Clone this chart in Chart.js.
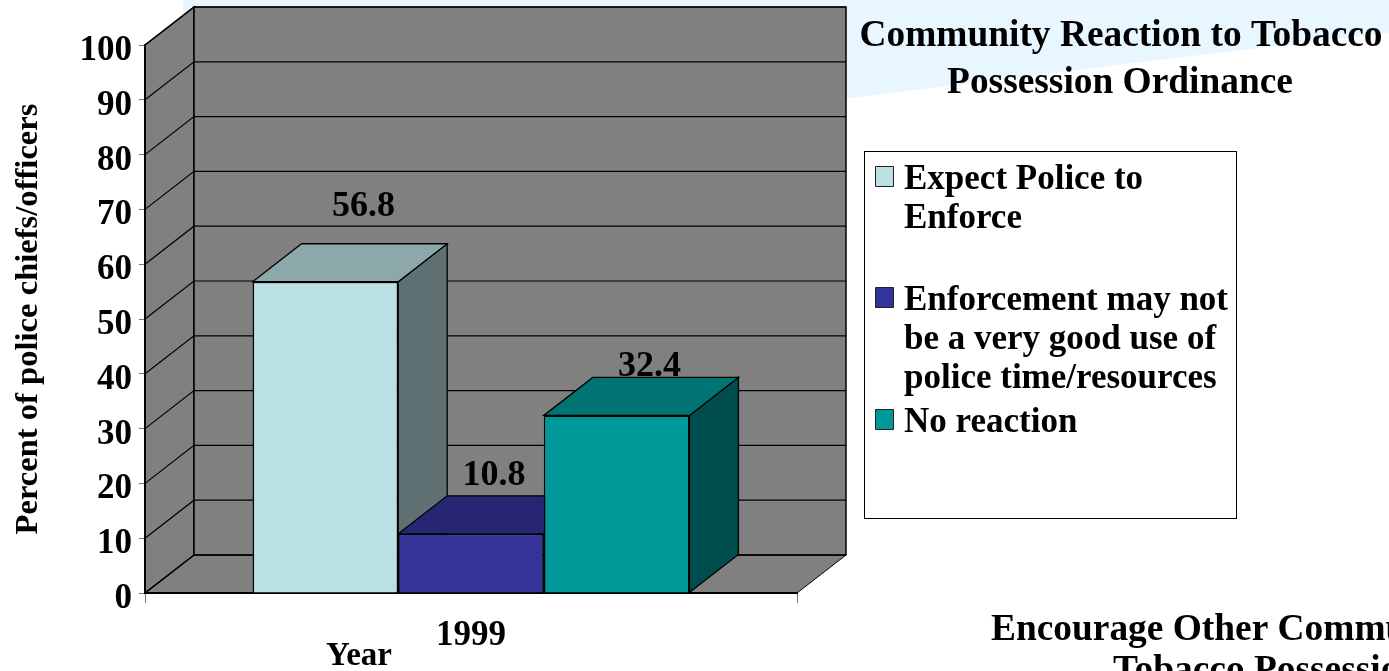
<!DOCTYPE html>
<html>
<head>
<meta charset="utf-8">
<style>html,body{margin:0;padding:0;background:#fff;overflow:hidden}canvas{display:block}</style>
<script src="https://cdn.jsdelivr.net/npm/chart.js@4/dist/chart.umd.min.js"></script>
</head>
<body>
<div style="width:1389px;height:671px"><canvas id="c" width="1389" height="671"></canvas></div>
<script>
const categories = ['1999'];
const seriesNames = ['Expect Police to Enforce', 'Enforcement may not be a very good use of police time/resources', 'No reaction'];
const expectPolice = [56.8];
const notGoodUse = [10.8];
const noReaction = [32.4];
const yTitle = 'Percent of police chiefs/officers';
const xTitle = 'Year';
const titleLines = ['Community Reaction to Tobacco', 'Possession Ordinance'];
const nextTitleLines = ['Encourage Other Communities', 'Tobacco Possession'];
const legendLines = [['Expect Police to', 'Enforce'], ['Enforcement may not', 'be a very good use of', 'police time/resources'], ['No reaction']];

const FONT = '"Liberation Serif", "Times New Roman", serif';
const fill = ['#BBE0E3', '#333399', '#009999'];
const topFill = ['#8CA8AA', '#262673', '#007373'];
const sideFill = ['#5E7072', '#1A1A4D', '#004D4D'];
const DX = 49, DY = -38;

function poly(ctx, pts, fillColor, stroke, lw) {
  ctx.beginPath();
  pts.forEach((p, i) => i ? ctx.lineTo(p[0], p[1]) : ctx.moveTo(p[0], p[1]));
  ctx.closePath();
  if (fillColor) { ctx.fillStyle = fillColor; ctx.fill(); }
  if (stroke) { ctx.strokeStyle = stroke; ctx.lineWidth = lw || 1; ctx.stroke(); }
}
function text(ctx, s, x, y, size, align) {
  ctx.font = 'bold ' + size + 'px ' + FONT;
  ctx.fillStyle = '#000';
  ctx.textAlign = align || 'left';
  ctx.textBaseline = 'middle';
  ctx.fillText(s, x, y);
}

const scene3d = {
  id: 'scene3d',
  beforeDraw(chart) {
    const { ctx, chartArea: a, scales: { y } } = chart;
    ctx.save();
    poly(ctx, [[183, 0], [1389, 0], [1389, 33], [1200, 55], [850, 98], [600, 130], [183, 130]], '#E8F7FF');
    const y0 = y.getPixelForValue(0), y100 = y.getPixelForValue(100);
    poly(ctx, [[a.left, y0], [a.right, y0], [a.right + DX, y0 + DY], [a.left + DX, y0 + DY]], '#808080', '#000', 1);
    poly(ctx, [[a.left, y0], [a.left + DX, y0 + DY], [a.left + DX, y100 + DY], [a.left, y100]], '#808080', '#000', 1.5);
    poly(ctx, [[a.left + DX, y0 + DY], [a.right + DX, y0 + DY], [a.right + DX, y100 + DY], [a.left + DX, y100 + DY]], '#808080', '#000', 1.5);
    ctx.strokeStyle = '#000';
    ctx.lineWidth = 1.2;
    y.ticks.forEach(t => {
      const py = y.getPixelForValue(t.value);
      ctx.beginPath();
      ctx.moveTo(a.left, py);
      ctx.lineTo(a.left + DX, py + DY);
      ctx.lineTo(a.right + DX, py + DY);
      ctx.stroke();
    });
    ctx.restore();
  },
  beforeDatasetsDraw(chart) {
    const ctx = chart.ctx;
    ctx.save();
    chart.data.datasets.forEach((ds, i) => {
      const bar = chart.getDatasetMeta(i).data[0];
      const l = bar.x - bar.width / 2, r = bar.x + bar.width / 2, t = bar.y, b = bar.base;
      poly(ctx, [[r, t], [r + DX, t + DY], [r + DX, b + DY], [r, b]], sideFill[i], '#000', 1.3);
      poly(ctx, [[l, t], [r, t], [r + DX, t + DY], [l + DX, t + DY]], topFill[i], '#000', 1.3);
    });
    ctx.restore();
  },
  afterDatasetsDraw(chart) {
    const ctx = chart.ctx;
    ctx.save();
    const shifts = [[38, -75], [23, -58], [33, -49]];
    chart.data.datasets.forEach((ds, i) => {
      const bar = chart.getDatasetMeta(i).data[0];
      text(ctx, ds.data[0].toFixed(1), bar.x + shifts[i][0], bar.y + shifts[i][1], 36, 'center');
    });
    text(ctx, xTitle, 359, 656, 33, 'center');
    text(ctx, titleLines[0], 1121, 36, 37.4, 'center');
    text(ctx, titleLines[1], 1120, 83, 37.4, 'center');
    ctx.fillStyle = '#fff';
    ctx.strokeStyle = '#000';
    ctx.lineWidth = 1;
    ctx.fillRect(864.5, 151.5, 372, 367);
    ctx.strokeRect(864.5, 151.5, 372, 367);
    const starts = [180, 301, 423];
    legendLines.forEach((lines, i) => {
      const c = starts[i] - 3;
      poly(ctx, [[875.5, c - 10.5], [893.5, c - 10.5], [893.5, c + 9.5], [875.5, c + 9.5]], fill[i], '#222', 1);
      lines.forEach((s, k) => text(ctx, s, 904, starts[i] + k * 39, 35));
    });
    text(ctx, nextTitleLines[0], 991, 630, 37.4);
    text(ctx, nextTitleLines[1], 1113, 671, 37.4);
    ctx.restore();
  }
};

new Chart(document.getElementById('c'), {
  type: 'bar',
  data: {
    labels: categories,
    datasets: [
      { label: seriesNames[0], data: expectPolice, backgroundColor: fill[0] },
      { label: seriesNames[1], data: notGoodUse, backgroundColor: fill[1] },
      { label: seriesNames[2], data: noReaction, backgroundColor: fill[2] }
    ]
  },
  plugins: [scene3d],
  options: {
    responsive: false,
    animation: false,
    layout: { padding: { left: 0, top: 45, right: 592, bottom: 0 } },
    datasets: { bar: { categoryPercentage: 0.67, barPercentage: 1, borderColor: '#000', borderWidth: 1.5 } },
    plugins: { legend: { display: false }, title: { display: false }, tooltip: { enabled: false } },
    scales: {
      x: {
        afterFit(s) { s.height = 78; },
        grid: { offset: true, drawOnChartArea: false, drawTicks: true, tickLength: 10, color: '#777' },
        border: { color: '#000', width: 2 },
        ticks: { color: '#000', padding: 12, maxRotation: 0, font: { family: FONT, size: 35, weight: 'bold' } }
      },
      y: {
        min: 0, max: 100,
        afterFit(s) { s.width = 145; },
        grid: { drawOnChartArea: false, drawTicks: true, tickLength: 6, color: '#777' },
        border: { color: '#000', width: 2 },
        ticks: { stepSize: 10, color: '#000', padding: 7, labelOffset: 6, font: { family: FONT, size: 35, weight: 'bold' } },
        title: { display: true, text: yTitle, color: '#000', padding: { top: 9, bottom: 0 }, font: { family: FONT, size: 32.6, weight: 'bold' } }
      }
    }
  }
});
</script>
</body>
</html>
